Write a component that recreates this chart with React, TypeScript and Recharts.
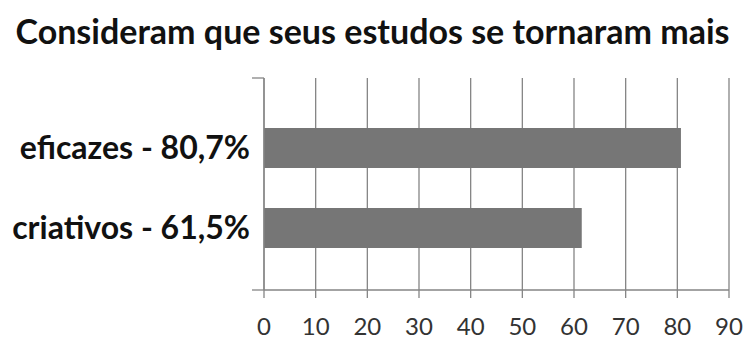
import React from 'react';
import { BarChart, Bar, XAxis, YAxis, CartesianGrid } from 'recharts';

const categories = ['eficazes - 80,7%', 'criativos - 61,5%'];
const values = [80.7, 61.5];
const xTicks = [0, 10, 20, 30, 40, 50, 60, 70, 80, 90];
const title = 'Consideram que seus estudos se tornaram mais';

const data = categories.map((name, i) => ({ name, value: values[i] }));

const LINE = '#858585';
const FONT = 'Lato, "Liberation Sans", sans-serif';

// invisible tick label so only the little tick marks of the frame axis are drawn
const NoLabel = () => <g />;

const App: React.FC = () => {
  return (
    <div style={{ position: 'absolute', left: 0, top: 0, width: 745, height: 340, background: '#fff' }}>
      <div
        style={{
          position: 'absolute',
          left: 0,
          top: 11,
          width: 745,
          textAlign: 'center',
          fontFamily: FONT,
          fontWeight: 700,
          fontSize: 34,
          color: '#111',
          lineHeight: '40px'
        }}
      >
        {title}
      </div>
      <BarChart
        width={745}
        height={340}
        data={data}
        layout="vertical"
        margin={{ top: 78, right: 16, bottom: 0, left: 0 }}
      >
        <CartesianGrid yAxisId="cat" horizontal={false} stroke={LINE} strokeWidth={1.3} />
        <XAxis
          type="number"
          domain={[0, 90]}
          ticks={xTicks}
          interval={0}
          height={50}
          tickSize={8}
          tickMargin={20}
          axisLine={{ stroke: LINE, strokeWidth: 1.3 }}
          tickLine={{ stroke: LINE, strokeWidth: 1.3 }}
          tick={{ fill: '#333', fontSize: 24, fontFamily: FONT }}
        />
        <YAxis
          yAxisId={0}
          type="number"
          domain={[0, 1]}
          ticks={[0, 1]}
          width={12}
          tick={NoLabel}
          tickSize={12}
          axisLine={{ stroke: LINE, strokeWidth: 1.3 }}
          tickLine={{ stroke: LINE, strokeWidth: 1.3 }}
        />
        <YAxis
          yAxisId="cat"
          type="category"
          dataKey="name"
          width={252}
          padding={{ top: 30, bottom: 22 }}
          axisLine={false}
          tickLine={false}
          tickSize={0}
          tickMargin={2}
          tick={{ fill: '#111', fontSize: 32, fontWeight: 700, fontFamily: FONT }}
        />
        <Bar yAxisId="cat" dataKey="value" fill="#767676" barSize={40} isAnimationActive={false} />
      </BarChart>
    </div>
  );
};

export default App;
